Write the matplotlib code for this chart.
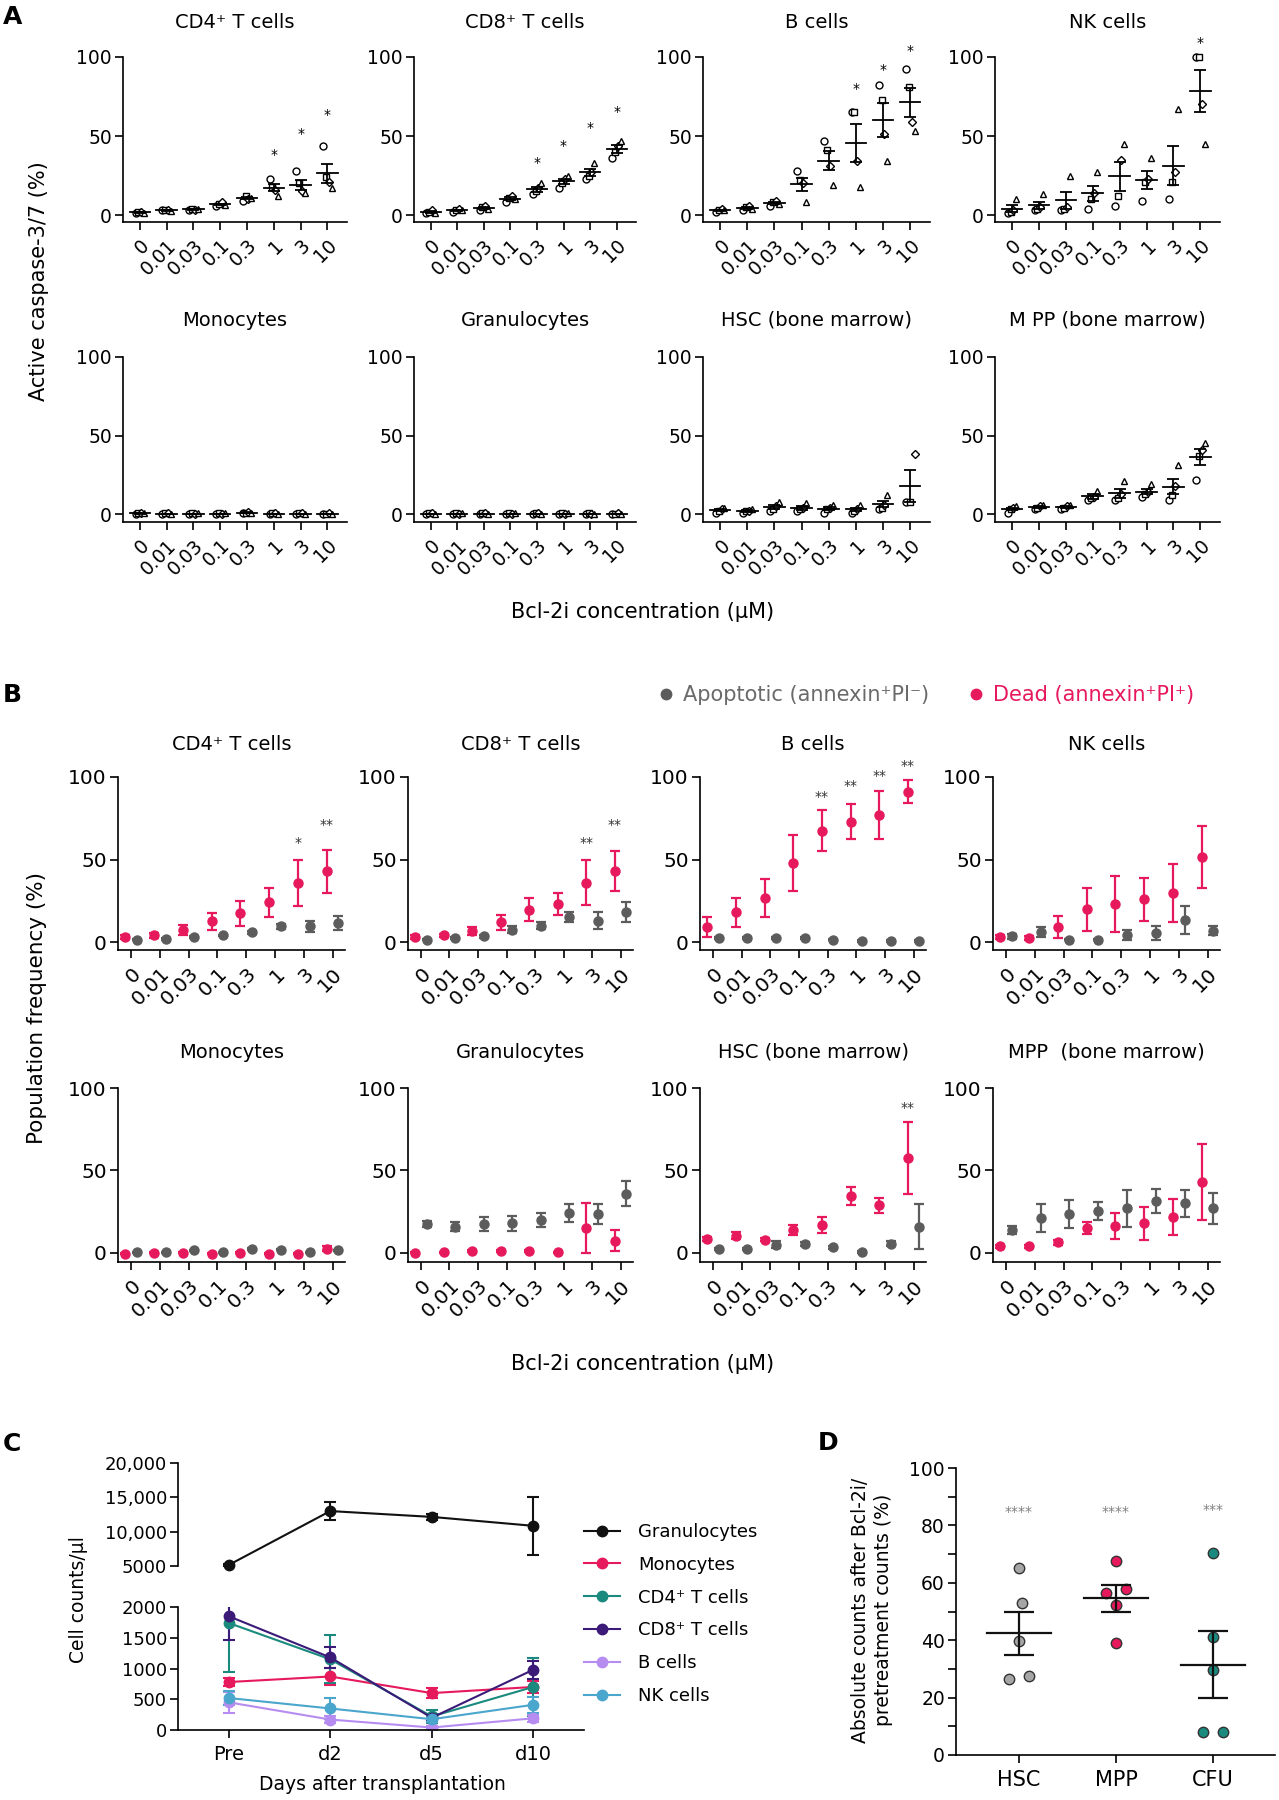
import numpy as np
import matplotlib
matplotlib.use("Agg")
import matplotlib.pyplot as plt
from matplotlib.lines import Line2D

plt.rcParams['font.family'] = ['DejaVu Sans']
plt.rcParams['axes.linewidth'] = 1.2
plt.rcParams['xtick.major.width'] = 1.2
plt.rcParams['ytick.major.width'] = 1.2
plt.rcParams['xtick.major.size'] = 6
plt.rcParams['ytick.major.size'] = 6

PINK = '#e6195c'
GREY = '#5c5c5c'

# concentrations (uM)
conc = ['0', '0.01', '0.03', '0.1', '0.3', '1', '3', '10']

# ---- A: active caspase-3/7 (%) per donor ----
a_titles = ['CD4⁺ T cells', 'CD8⁺ T cells', 'B cells', 'NK cells',
            'Monocytes', 'Granulocytes', 'HSC (bone marrow)', 'M PP (bone marrow)']
a_cd4 = [[1, 2, 2, 1.5], [3, 3.5, 3, 2.5], [3, 4, 3.5, 4], [6, 7, 8, 6.5],
         [9, 12, 10, 11], [23, 18, 16, 12], [28, 20, 15, 14], [44, 24, 21, 17]]
a_cd8 = [[1, 2, 3, 1.5], [2, 3, 4, 3], [3, 5, 6, 4], [8, 11, 12, 10],
         [13, 15, 17, 20], [17, 20, 23, 25], [23, 25, 27, 33], [36, 40, 44, 47]]
a_b = [[2, 3, 4, 3], [3, 5, 6, 4], [6, 8, 9, 7], [28, 22, 20, 8],
       [47, 41, 31, 19], [65.5, 65.5, 34, 17.5], [82, 73, 51, 34], [92.5, 81, 59, 53]]
a_nk = [[1, 2, 3, 10], [3, 4, 5, 13], [3, 4, 5, 25], [4, 10, 14, 27],
        [6, 12, 35, 45], [9, 21, 23, 36], [10, 21, 27, 67], [100, 100, 70, 45]]
a_mono = [[0, 0.5, 1, 0.5], [0, 0.5, 0.5, 0], [0, 0.5, 0, 0.5], [0, 0.5, 0, 0.5],
          [0.5, 1, 1.5, 0.5], [0, 0.5, 0.5, 0], [0, 0.5, 0.5, 0], [0, 0, 0.5, 0]]
a_gran = [[0, 0.5, 0.5, 0], [0, 0.5, 0, 0.5], [0, 0.5, 0.5, 0], [0, 0.5, 0, 0.5],
          [0, 0.5, 0.5, 0], [0, 0.5, 0, 0.5], [0, 0.5, 0, 0], [0, 0, 0.5, 0]]
a_hsc = [[1, 2, 3, 4], [1, 2, 2, 3], [2, 3, 5, 8], [2, 3, 4, 7],
         [1, 3, 4, 6], [1, 2, 3, 6], [3, 4, 6, 12], [8, 8, 38]]
a_mpp = [[1, 3, 4, 5], [3, 4, 5, 6], [3, 4, 5, 6], [9, 10, 11, 15],
         [9, 10, 13, 21], [11, 13, 14, 19], [9, 12, 18, 31], [22, 37, 41, 45]]
n8 = None
a_cd4_star = [n8, n8, n8, n8, n8, 38, 51, 63]
a_cd8_star = [n8, n8, n8, n8, 33, 44, 55, 65]
a_b_star = [n8, n8, n8, n8, n8, 80, 92, 104]
a_nk_star = [n8, n8, n8, n8, n8, n8, n8, 109]
a_none_star = [n8] * 8

# ---- B: dead / apoptotic population frequency (%), mean and SEM ----
b_titles = ['CD4⁺ T cells', 'CD8⁺ T cells', 'B cells', 'NK cells',
            'Monocytes', 'Granulocytes', 'HSC (bone marrow)', 'MPP  (bone marrow)']
b_cd4_dead = [3, 4, 7.5, 12.5, 17.5, 24, 36, 43]
b_cd4_dead_err = [1, 1.5, 3, 5, 7.5, 9, 14, 13]
b_cd4_apo = [1.5, 2, 3, 4, 6, 9.5, 9.5, 11.5]
b_cd4_apo_err = [0.5, 0.5, 0.5, 0.5, 1, 1.5, 3.5, 4]
b_cd8_dead = [3, 4, 6.5, 12, 19.5, 23, 36, 43]
b_cd8_dead_err = [1, 1, 2.5, 4.5, 7, 6.5, 13.5, 12]
b_cd8_apo = [1.5, 2.5, 3.5, 7.5, 10, 15, 13, 18]
b_cd8_apo_err = [0.5, 0.5, 1, 2, 2, 3, 5, 6]
b_b_dead = [9, 18, 26.5, 48, 67.5, 73, 77, 91]
b_b_dead_err = [6, 9, 11.5, 17, 12.5, 10.5, 14.5, 7]
b_b_apo = [2.5, 2.5, 2.5, 2.5, 1.5, 0.5, 0.5, 0.5]
b_b_apo_err = [0.5, 0.5, 0.5, 0.5, 0.5, 0.5, 0.5, 0.5]
b_nk_dead = [3, 2.5, 9, 20, 23, 26, 29.5, 51.5]
b_nk_dead_err = [1, 1, 6.5, 13, 17, 13, 17.5, 19]
b_nk_apo = [3.5, 6, 1.5, 1.5, 4.5, 5.5, 13.5, 7]
b_nk_apo_err = [1.5, 3, 0.5, 0.5, 3, 4.5, 8.5, 2.5]
b_mono_dead = [-0.5, 0, 0, -0.5, 0, -0.5, -0.5, 2.5]
b_mono_dead_err = [0.3, 0.3, 0.3, 0.3, 0.3, 0.3, 0.3, 1.5]
b_mono_apo = [0.5, 0.5, 1.5, 0.5, 2.5, 2, 0.5, 1.5]
b_mono_apo_err = [0.3, 0.3, 0.5, 0.3, 0.5, 0.5, 0.3, 0.5]
b_gran_dead = [0, 0.5, 1, 1, 1, 0.5, 15, 7.5]
b_gran_dead_err = [0.3, 0.3, 0.5, 0.5, 0.5, 0.3, 15, 6.5]
b_gran_apo = [17.5, 16, 17.5, 18, 20, 24, 23.5, 36]
b_gran_apo_err = [2, 3, 4, 4.5, 4.5, 5.5, 6, 7.5]
b_hsc_dead = [8.5, 10.5, 8, 14, 17, 34.5, 29, 57.5]
b_hsc_dead_err = [1, 2, 1, 3, 5, 5.5, 4.5, 22]
b_hsc_apo = [2.5, 2.5, 5, 5.5, 3.5, 0.5, 5.5, 16]
b_hsc_apo_err = [0.5, 0.5, 2, 1, 1, 0.5, 1.5, 13.5]
b_mpp_dead = [4, 4, 6.5, 15, 16.5, 18, 22, 43]
b_mpp_dead_err = [1, 1, 1.5, 3.5, 8, 10, 11, 23]
b_mpp_apo = [14, 21, 23.5, 25.5, 27, 31.5, 30, 27]
b_mpp_apo_err = [2.5, 8.5, 8.5, 5.5, 11, 7.5, 8, 9.5]
b_cd4_star = ['', '', '', '', '', '', '*', '**']
b_cd4_star_y = [0, 0, 0, 0, 0, 0, 60, 71]
b_cd8_star = ['', '', '', '', '', '', '**', '**']
b_cd8_star_y = [0, 0, 0, 0, 0, 0, 60, 71]
b_b_star = ['', '', '', '', '**', '**', '**', '**']
b_b_star_y = [0, 0, 0, 0, 88, 94.5, 100.5, 106.5]
b_hsc_star = ['', '', '', '', '', '', '', '**']
b_hsc_star_y = [0, 0, 0, 0, 0, 0, 0, 88]
b_no_star = [''] * 8
b_no_star_y = [0] * 8

# ---- C: cell counts per ul after transplantation ----
c_days = ['Pre', 'd2', 'd5', 'd10']
c_names = ['Granulocytes', 'Monocytes', 'CD4⁺ T cells', 'CD8⁺ T cells', 'B cells', 'NK cells']
c_colors = ['#111111', PINK, '#1b8a7e', '#3b1a78', '#b78cf0', '#4aa6cc']
c_gran = [5150, 13000, 12150, 10850]
c_gran_err = [150, 1300, 450, 4250]
c_mono = [780, 870, 600, 700]
c_mono_err = [70, 135, 75, 95]
c_cd4 = [1740, 1150, 220, 700]
c_cd4_err = [790, 390, 100, 470]
c_cd8 = [1850, 1180, 200, 980]
c_cd8_err = [380, 170, 60, 150]
c_bcell = [450, 170, 40, 190]
c_bcell_err = [170, 60, 20, 60]
c_nk = [520, 350, 175, 410]
c_nk_err = [110, 170, 50, 130]

# ---- D: absolute counts after Bcl-2i / pretreatment (%) ----
d_groups = ['HSC', 'MPP', 'CFU']
d_hsc = [65.2, 53.1, 39.8, 26.5, 27.5]
d_mpp = [67.5, 56.3, 58.0, 52.1, 39.1]
d_cfu = [70.4, 41.2, 29.6, 7.9, 8.1]
d_stars = ['****', '****', '***']
d_star_y = [84.7, 84.7, 85.3]

W, H = 1279, 1800
fig = plt.figure(figsize=(W / 100, H / 100), dpi=100)


def add_box(x0, y0, x1, y1):
    ax = fig.add_axes([x0 / W, 1 - y1 / H, (x1 - x0) / W, (y1 - y0) / H])
    ax.spines['top'].set_visible(False)
    ax.spines['right'].set_visible(False)
    return ax


def ftext(x, y, s, **kw):
    return fig.text(x / W, 1 - y / H, s, **kw)


def conc_axis(ax, xlim, ylim, size):
    ax.set_xlim(*xlim)
    ax.set_ylim(*ylim)
    ax.set_xticks(range(8))
    ax.set_xticklabels(conc, rotation=45, ha='right', va='top',
                       rotation_mode='anchor', fontsize=size)
    ax.set_yticks([0, 50, 100])
    ax.tick_params(axis='y', labelsize=size, pad=2)
    ax.tick_params(axis='x', pad=4)


a_markers = ['o', 's', 'D', '^']


def draw_a(ax, vals, stars):
    for i, v in enumerate(vals):
        n = len(v)
        offs = np.linspace(-0.16, 0.16, n)
        for j in range(n):
            ax.plot(i + offs[j], v[j], marker=a_markers[j], ms=5 if a_markers[j] != 'D' else 4.2,
                    mfc='white', mec='black', mew=1, ls='none', clip_on=False, zorder=3)
        m = np.mean(v)
        s = np.std(v, ddof=1) / np.sqrt(n)
        ax.plot([i - 0.38, i + 0.38], [m, m], color='black', lw=1.3, zorder=4)
        ax.errorbar(i, m, yerr=s, fmt='none', ecolor='black', elinewidth=1.3,
                    capsize=4, capthick=1.3, zorder=4)
        if stars[i] is not None:
            ax.text(i, stars[i], '*', ha='center', va='center', fontsize=10, clip_on=False)


def draw_b(ax, dm, de, am, ae, stars, star_y):
    x = np.arange(8)
    ax.errorbar(x + 0.2, am, yerr=ae, fmt='o', color=GREY, ms=6.5, elinewidth=1.6,
                capsize=3.5, capthick=1.6, clip_on=False, zorder=3)
    ax.errorbar(x - 0.2, dm, yerr=de, fmt='o', color=PINK, ms=6.5, elinewidth=1.6,
                capsize=3.5, capthick=1.6, clip_on=False, zorder=4)
    for i in range(8):
        if stars[i]:
            ax.text(i - 0.2, star_y[i], stars[i], ha='center', va='center',
                    fontsize=10, color='#333333', clip_on=False)


# ---------------- panel A ----------------
a_cols = [(123, 347), (414, 636), (703, 930), (995, 1220)]
a_rows = [(57, 222, 22, -4.4), (357, 522, 320, -5.0)]
a_data = [a_cd4, a_cd8, a_b, a_nk, a_mono, a_gran, a_hsc, a_mpp]
a_star = [a_cd4_star, a_cd8_star, a_b_star, a_nk_star,
          a_none_star, a_none_star, a_none_star, a_none_star]
for k in range(8):
    top, bot, ty, ymin = a_rows[k // 4]
    x0, x1 = a_cols[k % 4]
    ax = add_box(x0, top, x1, bot)
    draw_a(ax, a_data[k], a_star[k])
    conc_axis(ax, (-0.63, 7.73), (ymin, 100), 13.5)
    ftext((x0 + x1) / 2, ty, a_titles[k], ha='center', va='center', fontsize=14)

ftext(3, 17, 'A', fontsize=18, fontweight='bold', va='center')
ftext(39, 281, 'Active caspase-3/7 (%)', rotation=90, ha='center', va='center', fontsize=15)
ftext(643, 612, 'Bcl-2i concentration (μM)', ha='center', va='center', fontsize=15)

# ---------------- panel B ----------------
b_cols = [(118, 345), (408, 633), (700, 926), (993, 1220)]
b_rows = [(777, 950, 745, -4.8), (1088, 1262, 1052, -5.5)]
b_data = [(b_cd4_dead, b_cd4_dead_err, b_cd4_apo, b_cd4_apo_err, b_cd4_star, b_cd4_star_y),
          (b_cd8_dead, b_cd8_dead_err, b_cd8_apo, b_cd8_apo_err, b_cd8_star, b_cd8_star_y),
          (b_b_dead, b_b_dead_err, b_b_apo, b_b_apo_err, b_b_star, b_b_star_y),
          (b_nk_dead, b_nk_dead_err, b_nk_apo, b_nk_apo_err, b_no_star, b_no_star_y),
          (b_mono_dead, b_mono_dead_err, b_mono_apo, b_mono_apo_err, b_no_star, b_no_star_y),
          (b_gran_dead, b_gran_dead_err, b_gran_apo, b_gran_apo_err, b_no_star, b_no_star_y),
          (b_hsc_dead, b_hsc_dead_err, b_hsc_apo, b_hsc_apo_err, b_hsc_star, b_hsc_star_y),
          (b_mpp_dead, b_mpp_dead_err, b_mpp_apo, b_mpp_apo_err, b_no_star, b_no_star_y)]
for k in range(8):
    top, bot, ty, ymin = b_rows[k // 4]
    x0, x1 = b_cols[k % 4]
    ax = add_box(x0, top, x1, bot)
    draw_b(ax, *b_data[k])
    conc_axis(ax, (-0.45, 7.43), (ymin, 100), 14.5)
    ftext((x0 + x1) / 2, ty, b_titles[k], ha='center', va='center', fontsize=14)

ftext(3, 695, 'B', fontsize=18, fontweight='bold', va='center')
ftext(37, 1008, 'Population frequency (%)', rotation=90, ha='center', va='center', fontsize=15.5)
ftext(643, 1364, 'Bcl-2i concentration (μM)', ha='center', va='center', fontsize=15)
leg_b = fig.legend([Line2D([], [], marker='o', ls='none', color=GREY, ms=7.5),
                    Line2D([], [], marker='o', ls='none', color=PINK, ms=7.5)],
                   ['Apoptotic (annexin⁺PI⁻)', 'Dead (annexin⁺PI⁺)'],
                   loc='center left', bbox_to_anchor=(659 / W, 1 - 695 / H), ncol=2,
                   frameon=False, fontsize=15, handlelength=0.7, handletextpad=0.45,
                   columnspacing=1.9, borderpad=0, borderaxespad=0)
leg_b.get_texts()[0].set_color('#6a6a6a')
leg_b.get_texts()[1].set_color(PINK)

# ---------------- panel C ----------------
xc = np.arange(4)
axu = add_box(178, 1463, 584, 1566)
axu.errorbar(xc, c_gran, yerr=c_gran_err, color=c_colors[0], marker='o', ms=7.5, lw=1.5,
             capsize=4.5, capthick=1.5, clip_on=False)
axu.set_xlim(-0.5, 3.5)
axu.set_ylim(5000, 20000)
axu.spines['bottom'].set_visible(False)
axu.set_xticks([])
axu.set_yticks([5000, 10000, 15000, 20000])
axu.set_yticklabels(['5000', '10,000', '15,000', '20,000'])
axu.tick_params(axis='y', labelsize=13, pad=2)

axl = add_box(178, 1607, 584, 1730)
c_series = [(c_mono, c_mono_err), (c_cd4, c_cd4_err), (c_cd8, c_cd8_err),
            (c_bcell, c_bcell_err), (c_nk, c_nk_err)]
for (m, e), col in zip(c_series, c_colors[1:]):
    axl.errorbar(xc, m, yerr=e, color=col, marker='o', ms=7.5, lw=1.5,
                 capsize=4.5, capthick=1.5)
axl.set_xlim(-0.5, 3.5)
axl.set_ylim(0, 2000)
axl.set_yticks([0, 500, 1000, 1500, 2000])
axl.set_xticks(xc)
axl.set_xticklabels(c_days)
axl.tick_params(axis='y', labelsize=13, pad=2)
axl.tick_params(axis='x', labelsize=14, pad=5)

ftext(3, 1444, 'C', fontsize=18, fontweight='bold', va='center')
ftext(78, 1600, 'Cell counts/μl', rotation=90, ha='center', va='center', fontsize=13.5)
ftext(382, 1785, 'Days after transplantation', ha='center', va='center', fontsize=13.5)
fig.legend([Line2D([], [], color=c, marker='o', ms=7.5, lw=1.5) for c in c_colors], c_names,
           loc='center left', bbox_to_anchor=(584 / W, 1 - 1614 / H), frameon=False,
           fontsize=13, handlelength=2.0, handletextpad=1.0, labelspacing=0.82,
           borderpad=0, borderaxespad=0)

# ---------------- panel D ----------------
axd = add_box(956, 1468, 1275, 1755)
d_vals = [d_hsc, d_mpp, d_cfu]
d_cols = ['#a6a6a6', PINK, '#1b8a7e']
d_jitter = [[0, 0.03, 0, -0.1, 0.1], [0, -0.1, 0.1, 0, 0], [0, 0, 0, -0.1, 0.1]]
for i, (v, col, jit) in enumerate(zip(d_vals, d_cols, d_jitter)):
    axd.plot(i + np.array(jit), v, 'o', mfc=col, mec='#333333', mew=1, ms=7.5, zorder=3)
    m = np.mean(v)
    s = np.std(v, ddof=1) / np.sqrt(len(v))
    axd.plot([i - 0.33, i + 0.33], [m, m], color='#111111', lw=1.6, zorder=4)
    axd.errorbar(i, m, yerr=s, fmt='none', ecolor='#111111', elinewidth=1.6,
                 capsize=11, capthick=1.6, zorder=4)
    axd.text(i, d_star_y[i], d_stars[i], ha='center', va='center', fontsize=10, color='#808080')
axd.set_xlim(-0.65, 2.64)
axd.set_ylim(0, 100)
axd.set_xticks(range(3))
axd.set_xticklabels(d_groups, fontsize=15)
axd.set_yticks(np.arange(0, 101, 10))
axd.set_yticklabels([str(t) if t % 20 == 0 else '' for t in range(0, 101, 10)])
axd.tick_params(axis='y', labelsize=13.5, pad=2)
axd.tick_params(axis='x', pad=5)

ftext(828, 1443, 'D', fontsize=18, fontweight='bold', va='center', ha='center')
ftext(872, 1610, 'Absolute counts after Bcl-2i/\npretreatment counts (%)', rotation=90,
      ha='center', va='center', fontsize=13.5, linespacing=1.25)

fig.savefig('out.png', dpi=100)
